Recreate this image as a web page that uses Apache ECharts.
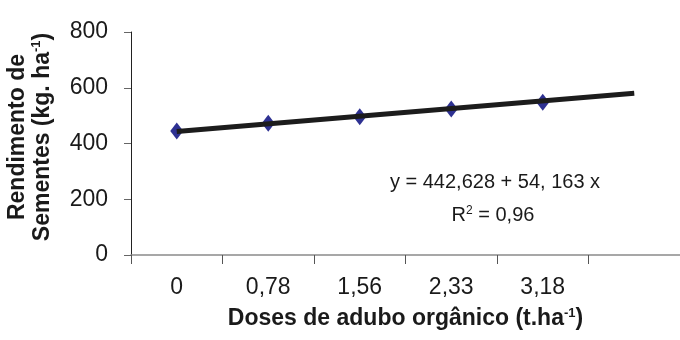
<!DOCTYPE html>
<html><head><meta charset="utf-8">
<script src="https://cdn.jsdelivr.net/npm/echarts@6/dist/echarts.min.js"></script>
<style>html,body{margin:0;padding:0;background:#fff}#c{width:680px;height:340px}</style>
</head><body><div id="c"></div>
<script>
var categories = ['0', '0,78', '1,56', '2,33', '3,18', ''];
var yields = [445, 473, 496, 524, 548, null];
var trend = [443, null, null, null, null, 580];
var yTicks = [0, 200, 400, 600, 800];
var equationText = 'y = 442,628 + 54, 163 x';
var r2Text = '0,96';

var font = '"Liberation Sans", Arial, sans-serif';
var chart = echarts.init(document.getElementById('c'), null, {renderer: 'canvas'});
chart.setOption({
  animation: false,
  backgroundColor: '#ffffff',
  grid: {left: 131, right: -7, top: 32, bottom: 85, containLabel: false},
  xAxis: {
    type: 'category', data: categories, boundaryGap: true,
    axisLine: {lineStyle: {color: '#8a8a8a', width: 1.5}},
    axisTick: {show: true, length: 9, lineStyle: {color: '#555', width: 1}},
    axisLabel: {color: '#1a1a1a', fontSize: 23, fontFamily: font, margin: 21, interval: 0},
    name: '{b|Doses de adubo orgânico (t.ha}{s|-1}{b|)}',
    nameLocation: 'middle', nameGap: 52,
    nameTextStyle: {rich: {
      b: {fontSize: 23, fontWeight: 'bold', fontFamily: font, color: '#1a1a1a'},
      s: {fontSize: 13, fontWeight: 'bold', fontFamily: font, color: '#1a1a1a', verticalAlign: 'top', padding: [0,0,9,0]}
    }}
  },
  yAxis: {
    type: 'value', min: 0, max: 800, interval: 200,
    splitLine: {show: false},
    axisLine: {show: true, lineStyle: {color: '#222', width: 1}},
    axisTick: {show: true, length: 7, lineStyle: {color: '#666'}},
    axisLabel: {color: '#1a1a1a', fontSize: 23, fontFamily: font, margin: 23,
      formatter: function (v) { return yTicks.indexOf(v) >= 0 ? String(v) : ''; }}
  },
  graphic: [
    {type: 'group', x: 30, y: 137, rotation: Math.PI / 2, children: [
      {type: 'text', style: {
        text: '{b|Rendimento de}\n{b|Sementes (kg. ha}{s|-1}{b|)}',
        x: 0, y: 0, align: 'center', verticalAlign: 'middle', lineHeight: 25,
        rich: {
          b: {fontSize: 23, fontWeight: 'bold', fontFamily: font, fill: '#1a1a1a', lineHeight: 25},
          s: {fontSize: 13, fontWeight: 'bold', fontFamily: font, fill: '#1a1a1a', lineHeight: 25, verticalAlign: 'top', padding: [0,0,9,0]}
        }
      }}
    ]},
    {type: 'text', style: {text: equationText, x: 495, y: 182, align: 'center', verticalAlign: 'middle',
      fontSize: 20, fontFamily: font, fill: '#1a1a1a'}},
    {type: 'text', style: {text: '{n|R}{s|2}{n| = ' + r2Text + '}', x: 493, y: 215, align: 'center', verticalAlign: 'middle',
      rich: {
        n: {fontSize: 20, fontFamily: font, fill: '#1a1a1a'},
        s: {fontSize: 12, fontFamily: font, fill: '#1a1a1a', verticalAlign: 'top', padding: [0,0,8,0]}
      }}}
  ],
  series: [
    {type: 'line', data: yields, symbol: 'diamond', symbolSize: [13, 17],
     lineStyle: {width: 0, opacity: 0}, itemStyle: {color: '#2e3192'}, z: 2},
    {type: 'line', data: trend, connectNulls: true, symbol: 'none',
     lineStyle: {width: 5, color: '#1c1c1c'}, z: 3}
  ]
});
</script></body></html>
